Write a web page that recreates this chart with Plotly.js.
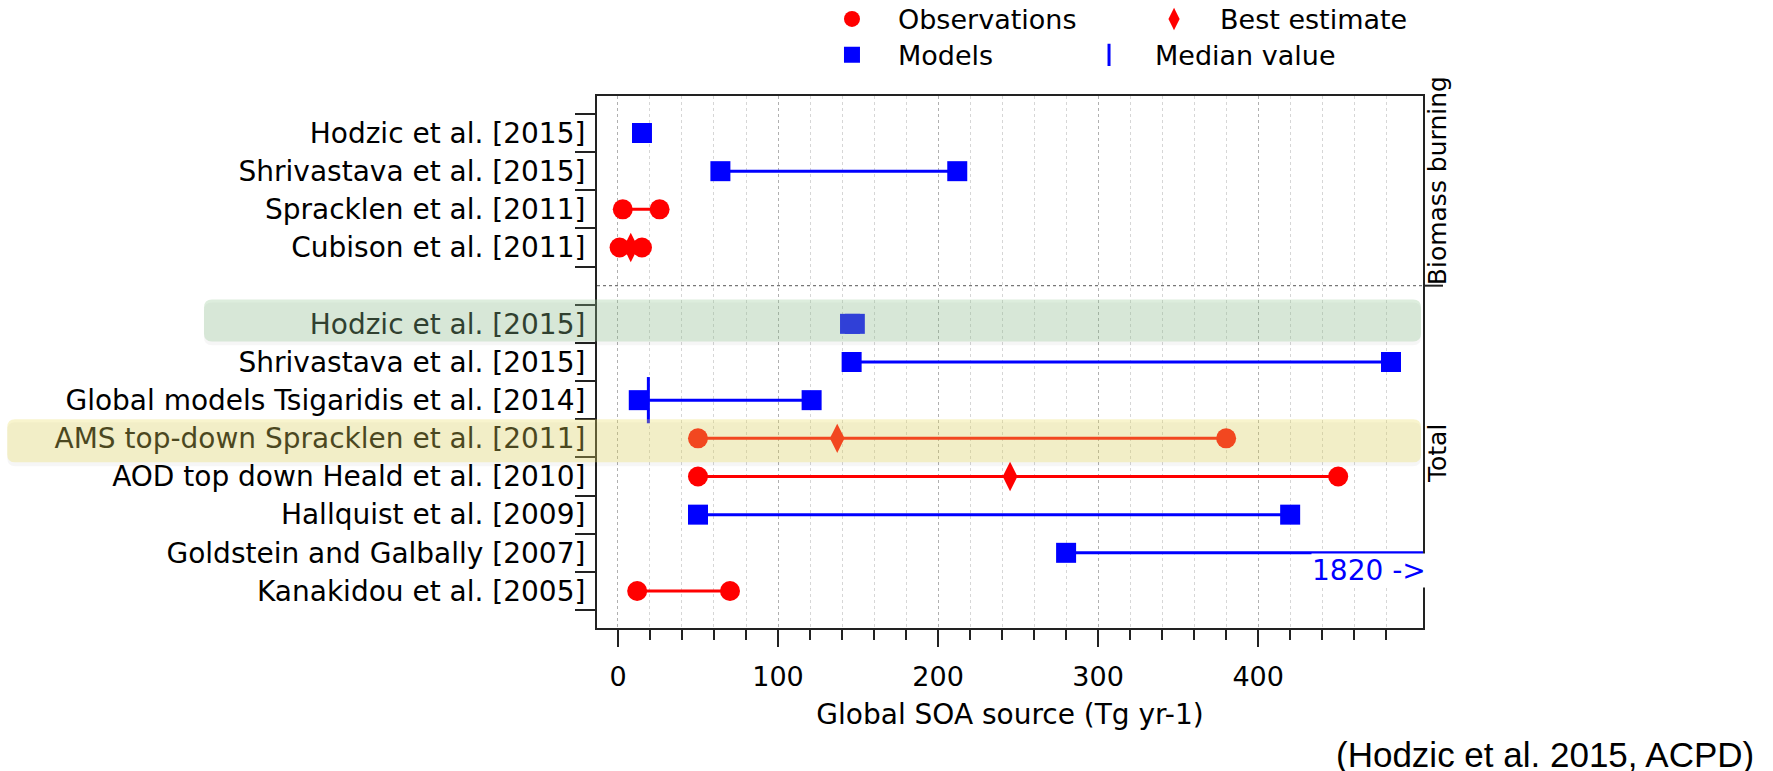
<!DOCTYPE html>
<html>
<head>
<meta charset="utf-8">
<script src="https://cdn.plot.ly/plotly-3.0.1.min.js"></script>
<style>html,body{margin:0;padding:0;background:#fff;}#chart{width:1773px;height:771px;}</style>
</head>
<body>
<div id="chart"></div>
<script>
// ---- data ----
const studies = [
  'Hodzic et al. [2015]',
  'Shrivastava et al. [2015]',
  'Spracklen et al. [2011]',
  'Cubison et al. [2011]',
  '',
  'Hodzic et al. [2015]',
  'Shrivastava et al. [2015]',
  'Global models Tsigaridis et al. [2014]',
  'AMS top-down Spracklen et al. [2011]',
  'AOD top down Heald et al. [2010]',
  'Hallquist et al. [2009]',
  'Goldstein and Galbally [2007]',
  'Kanakidou et al. [2005]'
];
const studyType    = ['model','model','obs','obs',null,'model','model','model','obs','obs','model','model','obs'];
const lowValues    = [15, 64, 3, 1, null, 145, 146, 13, 50, 50, 50, 280, 12];
const highValues   = [15, 212, 26, 15, null, 148, 483, 121, 380, 450, 420, 1820, 70];
const bestEstimate = [null, null, null, 8, null, null, null, null, 137, 245, null, null, null];
const medianValue  = [null, null, null, null, null, null, null, 19, null, null, null, null, null];
const groupLabels  = ['Biomass burning', 'Total'];
const xTickVals    = [0, 100, 200, 300, 400];
const xMinorVals   = [20,40,60,80,120,140,160,180,220,240,260,280,320,340,360,380,420,440,460,480];

// ---- build traces ----
const FONT = 'DejaVu Sans, Verdana, sans-serif';
const RED = '#ff0000', BLUE = '#0000ff';

function segs(type) {
  const x = [], y = [];
  studies.forEach((s, i) => {
    if (studyType[i] === type && lowValues[i] !== highValues[i]) {
      x.push(lowValues[i], highValues[i], null);
      y.push(i, i, null);
    }
  });
  return {x, y};
}
function ends(type) {
  const x = [], y = [];
  studies.forEach((s, i) => {
    if (studyType[i] === type) {
      x.push(lowValues[i]); y.push(i);
      if (highValues[i] !== lowValues[i]) { x.push(highValues[i]); y.push(i); }
    }
  });
  return {x, y};
}
function pick(arr) {
  const x = [], y = [];
  arr.forEach((v, i) => { if (v !== null) { x.push(v); y.push(i); } });
  return {x, y};
}

const redSeg = segs('obs'), blueSeg = segs('model');
const obsPts = ends('obs'), modPts = ends('model');
const bestPts = pick(bestEstimate), medPts = pick(medianValue);

const traces = [
  {type:'scatter', mode:'lines', x:redSeg.x, y:redSeg.y, line:{color:RED, width:3}, showlegend:false, hoverinfo:'skip'},
  {type:'scatter', mode:'lines', x:blueSeg.x, y:blueSeg.y, line:{color:BLUE, width:3}, showlegend:false, hoverinfo:'skip'},
  {type:'scatter', mode:'markers', name:'Observations', legend:'legend', x:obsPts.x, y:obsPts.y,
   marker:{symbol:'circle', size:20, color:RED, line:{width:0}}},
  {type:'scatter', mode:'markers', name:'Best estimate', legend:'legend2', x:bestPts.x, y:bestPts.y,
   marker:{symbol:'diamond-tall', size:21, color:RED, line:{width:0}}},
  {type:'scatter', mode:'markers', name:'Models', legend:'legend3', x:modPts.x, y:modPts.y,
   marker:{symbol:'square', size:20, color:BLUE, line:{width:0}}},
  {type:'scatter', mode:'markers', name:'Median value', legend:'legend4', x:medPts.x, y:medPts.y,
   marker:{symbol:'line-ns', size:33, color:BLUE, line:{width:3, color:BLUE}}}
];

// y ticks
const yTickVals = [], yTickText = [];
studies.forEach((s, i) => { if (s) { yTickVals.push(i); yTickText.push(s); } });
const yMinorVals = [];
for (let i = 0; i <= studies.length; i++) yMinorVals.push(i - 0.5);

// highlight boxes (paper x, data y) with rounded corners
function roundBox(x0, x1, y0, y1, rx, ry) {
  return `M ${x0+rx},${y0} L ${x1-rx},${y0} Q ${x1},${y0} ${x1},${y0+ry} L ${x1},${y1-ry} Q ${x1},${y1} ${x1-rx},${y1} ` +
         `L ${x0+rx},${y1} Q ${x0},${y1} ${x0},${y1-ry} L ${x0},${y0+ry} Q ${x0},${y0} ${x0+rx},${y0} Z`;
}
const PW = 826;
const rx = 8 / PW, ry = 8 / 38.2;

const shapes = [
  // shadows
  {type:'path', xref:'paper', yref:'y', layer:'above', path: roundBox(-0.4758, 0.9976, 4.44, 5.56, rx, ry),
   fillcolor:'rgba(0,0,0,0.035)', line:{width:0}},
  {type:'path', xref:'paper', yref:'y', layer:'above', path: roundBox(-0.714, 0.9976, 7.58, 8.73, rx, ry),
   fillcolor:'rgba(0,0,0,0.035)', line:{width:0}},
  // highlights
  {type:'path', xref:'paper', yref:'y', layer:'above', path: roundBox(-0.4758, 0.9976, 4.36, 5.46, rx, ry),
   fillcolor:'rgba(150,200,150,0.32)', line:{width:0}},
  {type:'path', xref:'paper', yref:'y', layer:'above', path: roundBox(-0.714, 0.9976, 7.5, 8.63, rx, ry),
   fillcolor:'rgba(232,222,100,0.32)', line:{width:0}},
  // separator between groups
  {type:'line', xref:'paper', yref:'y', x0:0, x1:1, y0:4, y1:4, line:{color:'#777', width:1.2, dash:'dot'}},
  {type:'line', xref:'paper', yref:'y', x0:1, x1:1 + 20/PW, y0:4, y1:4, line:{color:'#222', width:2}}
];

const annotations = [
  {xref:'paper', yref:'y', x:1.0375, y:1.25, text:groupLabels[0], textangle:-90, showarrow:false,
   font:{family:FONT, size:25, color:'#000'}},
  {xref:'paper', yref:'y', x:1.0375, y:8.4, text:groupLabels[1], textangle:-90, showarrow:false,
   font:{family:FONT, size:25, color:'#000'}},
  {xref:'x', yref:'y', x:433, y:11, xanchor:'left', yanchor:'top', text:'1820 ->', showarrow:false,
   bgcolor:'#ffffff', borderpad:0, font:{family:FONT, size:28, color:BLUE}},
  {xref:'paper', yref:'paper', x:1.403, y:-0.238, xanchor:'right', yanchor:'middle', showarrow:false,
   text:'(Hodzic et al. 2015, ACPD)', font:{family:'Liberation Sans, Arial, sans-serif', size:35, color:'#000'}}
];

function legendAt(x, y) {
  return {orientation:'h', x:x, xanchor:'left', y:y, yanchor:'middle', itemwidth:82,
          font:{family:FONT, size:27, color:'#000'}, bgcolor:'rgba(0,0,0,0)'};
}

const layout = {
  width:1773, height:771,
  margin:{l:597, r:350, t:96, b:143, pad:0, autoexpand:false},
  paper_bgcolor:'#fff', plot_bgcolor:'#fff',
  font:{family:FONT, size:27, color:'#000'},
  xaxis:{
    range:[-13.1, 503], tickmode:'array', tickvals:xTickVals, ticktext:xTickVals.map(String),
    ticks:'outside', ticklen:17, tickwidth:2, tickcolor:'#222', ticklabelstandoff:7,
    showgrid:true, gridcolor:'#b0b0b0', griddash:'dot', gridwidth:1,
    minor:{tickmode:'array', tickvals:xMinorVals, ticks:'outside', ticklen:10, tickwidth:2, tickcolor:'#222',
           showgrid:true, gridcolor:'#d6d6d6', griddash:'dot', gridwidth:1},
    showline:true, linecolor:'#222', linewidth:2, mirror:true, zeroline:false,
    tickfont:{family:FONT, size:27, color:'#000'},
    title:{text:'Global SOA source (Tg yr-1)', font:{family:FONT, size:28, color:'#000'}, standoff:13},
    automargin:false, fixedrange:true
  },
  yaxis:{
    range:[12.97, -0.97], tickmode:'array', tickvals:yTickVals, ticktext:yTickText,
    ticks:'', showgrid:false, zeroline:false, ticklabelstandoff:4,
    minor:{tickmode:'array', tickvals:yMinorVals, ticks:'outside', ticklen:20, tickwidth:2, tickcolor:'#222', showgrid:false},
    showline:true, linecolor:'#222', linewidth:2, mirror:true,
    tickfont:{family:FONT, size:28, color:'#000'},
    automargin:false, fixedrange:true
  },
  legend:  legendAt(0.253, 1.144),
  legend2: legendAt(0.6429, 1.144),
  legend3: legendAt(0.253, 1.0765),
  legend4: legendAt(0.5642, 1.0765),
  shapes:shapes,
  annotations:annotations,
  showlegend:true
};

Plotly.newPlot('chart', traces, layout, {displayModeBar:false, staticPlot:true});
</script>
</body>
</html>
